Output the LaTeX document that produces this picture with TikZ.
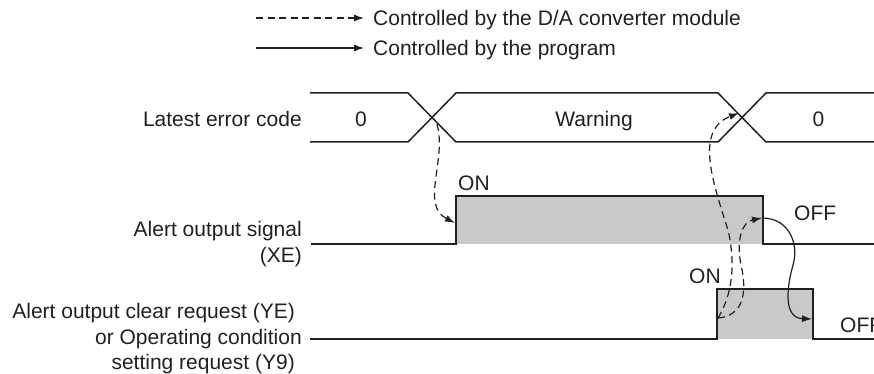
\documentclass[tikz,border=0pt]{standalone}
\usepackage{fontspec}
\setmainfont{Liberation Sans}
\usetikzlibrary{arrows.meta}
\definecolor{ink}{HTML}{231F20}
\definecolor{fillgray}{HTML}{C8C9CB}
\begin{document}
\begin{tikzpicture}[x=1pt,y=-1pt,
  txt/.style={font=\fontsize{21}{26}\selectfont, text=ink, inner sep=0pt},
  sig/.style={draw=ink, line width=1.5pt, line join=miter},
  ctrl/.style={draw=ink, line width=1.2pt, -{Latex[length=10pt,width=7pt]}},
  dsh/.style={ctrl, dash pattern=on 7pt off 4.5pt},
]
\useasboundingbox (0,0) rectangle (874,374);

% legend
\coordinate (l1s) at (256,18);
\coordinate (l1e) at (364,18);
\coordinate (l2s) at (256,48);
\coordinate (l2e) at (364,48);
\draw[dsh] (l1s) -- (l1e);
\draw[ctrl] (l2s) -- (l2e);
\node[txt, anchor=base west] (lg1) at (373,25.5) {Controlled by the D/A converter module};
\node[txt, anchor=base west] (lg2) at (373,55.5) {Controlled by the program};

% latest error code bus
\draw[sig] (310,93) -- (408,93) -- (456,142) -- (718,142) -- (766,93) -- (874,93);
\draw[sig] (310,142) -- (408,142) -- (456,93) -- (718,93) -- (766,142) -- (874,142);
\node[txt, anchor=base east] (lec) at (302,127) {Latest error code};
\node[txt, anchor=base] (v0a) at (361,127) {0};
\node[txt, anchor=base] (vw) at (594,127) {Warning};
\node[txt, anchor=base] (v0b) at (818.5,127) {0};

% alert output signal XE
\fill[fillgray] (456,196) rectangle (763,244);
\draw[sig] (311,244) -- (456,244) -- (456,196) -- (763,196) -- (763,244) -- (874,244);
\node[txt, anchor=base east] (xe1) at (302,236.5) {Alert output signal};
\node[txt, anchor=base east] (xe2) at (302,262) {(XE)};
\node[txt, anchor=base west] (on1) at (458,190) {ON};
\node[txt, anchor=base west] (off1) at (794,220) {OFF};

% clear request YE / Y9
\fill[fillgray] (717,289) rectangle (813,339);
\draw[sig] (310,339) -- (717,339) -- (717,289) -- (813,289) -- (813,339) -- (874,339);
\node[txt, anchor=base east] (ye1) at (295,318) {Alert output clear request (YE)};
\node[txt, anchor=base east] (ye2) at (302,344) {or Operating condition};
\node[txt, anchor=base east] (ye3) at (295,369) {setting request (Y9)};
\node[txt, anchor=base west] (on2) at (689,283) {ON};
\node[txt, anchor=base west] (off2) at (840,332) {OFF};

% connector end points
\coordinate (x1) at (437,124);
\coordinate (xeR) at (455,223);
\coordinate (yeR) at (718,318);
\coordinate (xeF) at (762,218);
\coordinate (x2) at (739,113);
\coordinate (yeF) at (812,319);

\draw[dsh] (x1) .. controls (447,160) and (420,205) .. (xeR);
\draw[dsh] (yeR) .. controls (742,316) and (748,295) .. (741,265)
               .. controls (736,240) and (742,222) .. (xeF);
\draw[dsh] (yeR) .. controls (732,295) and (736,265) .. (728,230)
               .. controls (712,180) and (695,130) .. (x2);
\draw[ctrl] (xeF) .. controls (790,218) and (799,245) .. (793,265)
               .. controls (786,290) and (784,318) .. (yeF);
\end{tikzpicture}
\end{document}
